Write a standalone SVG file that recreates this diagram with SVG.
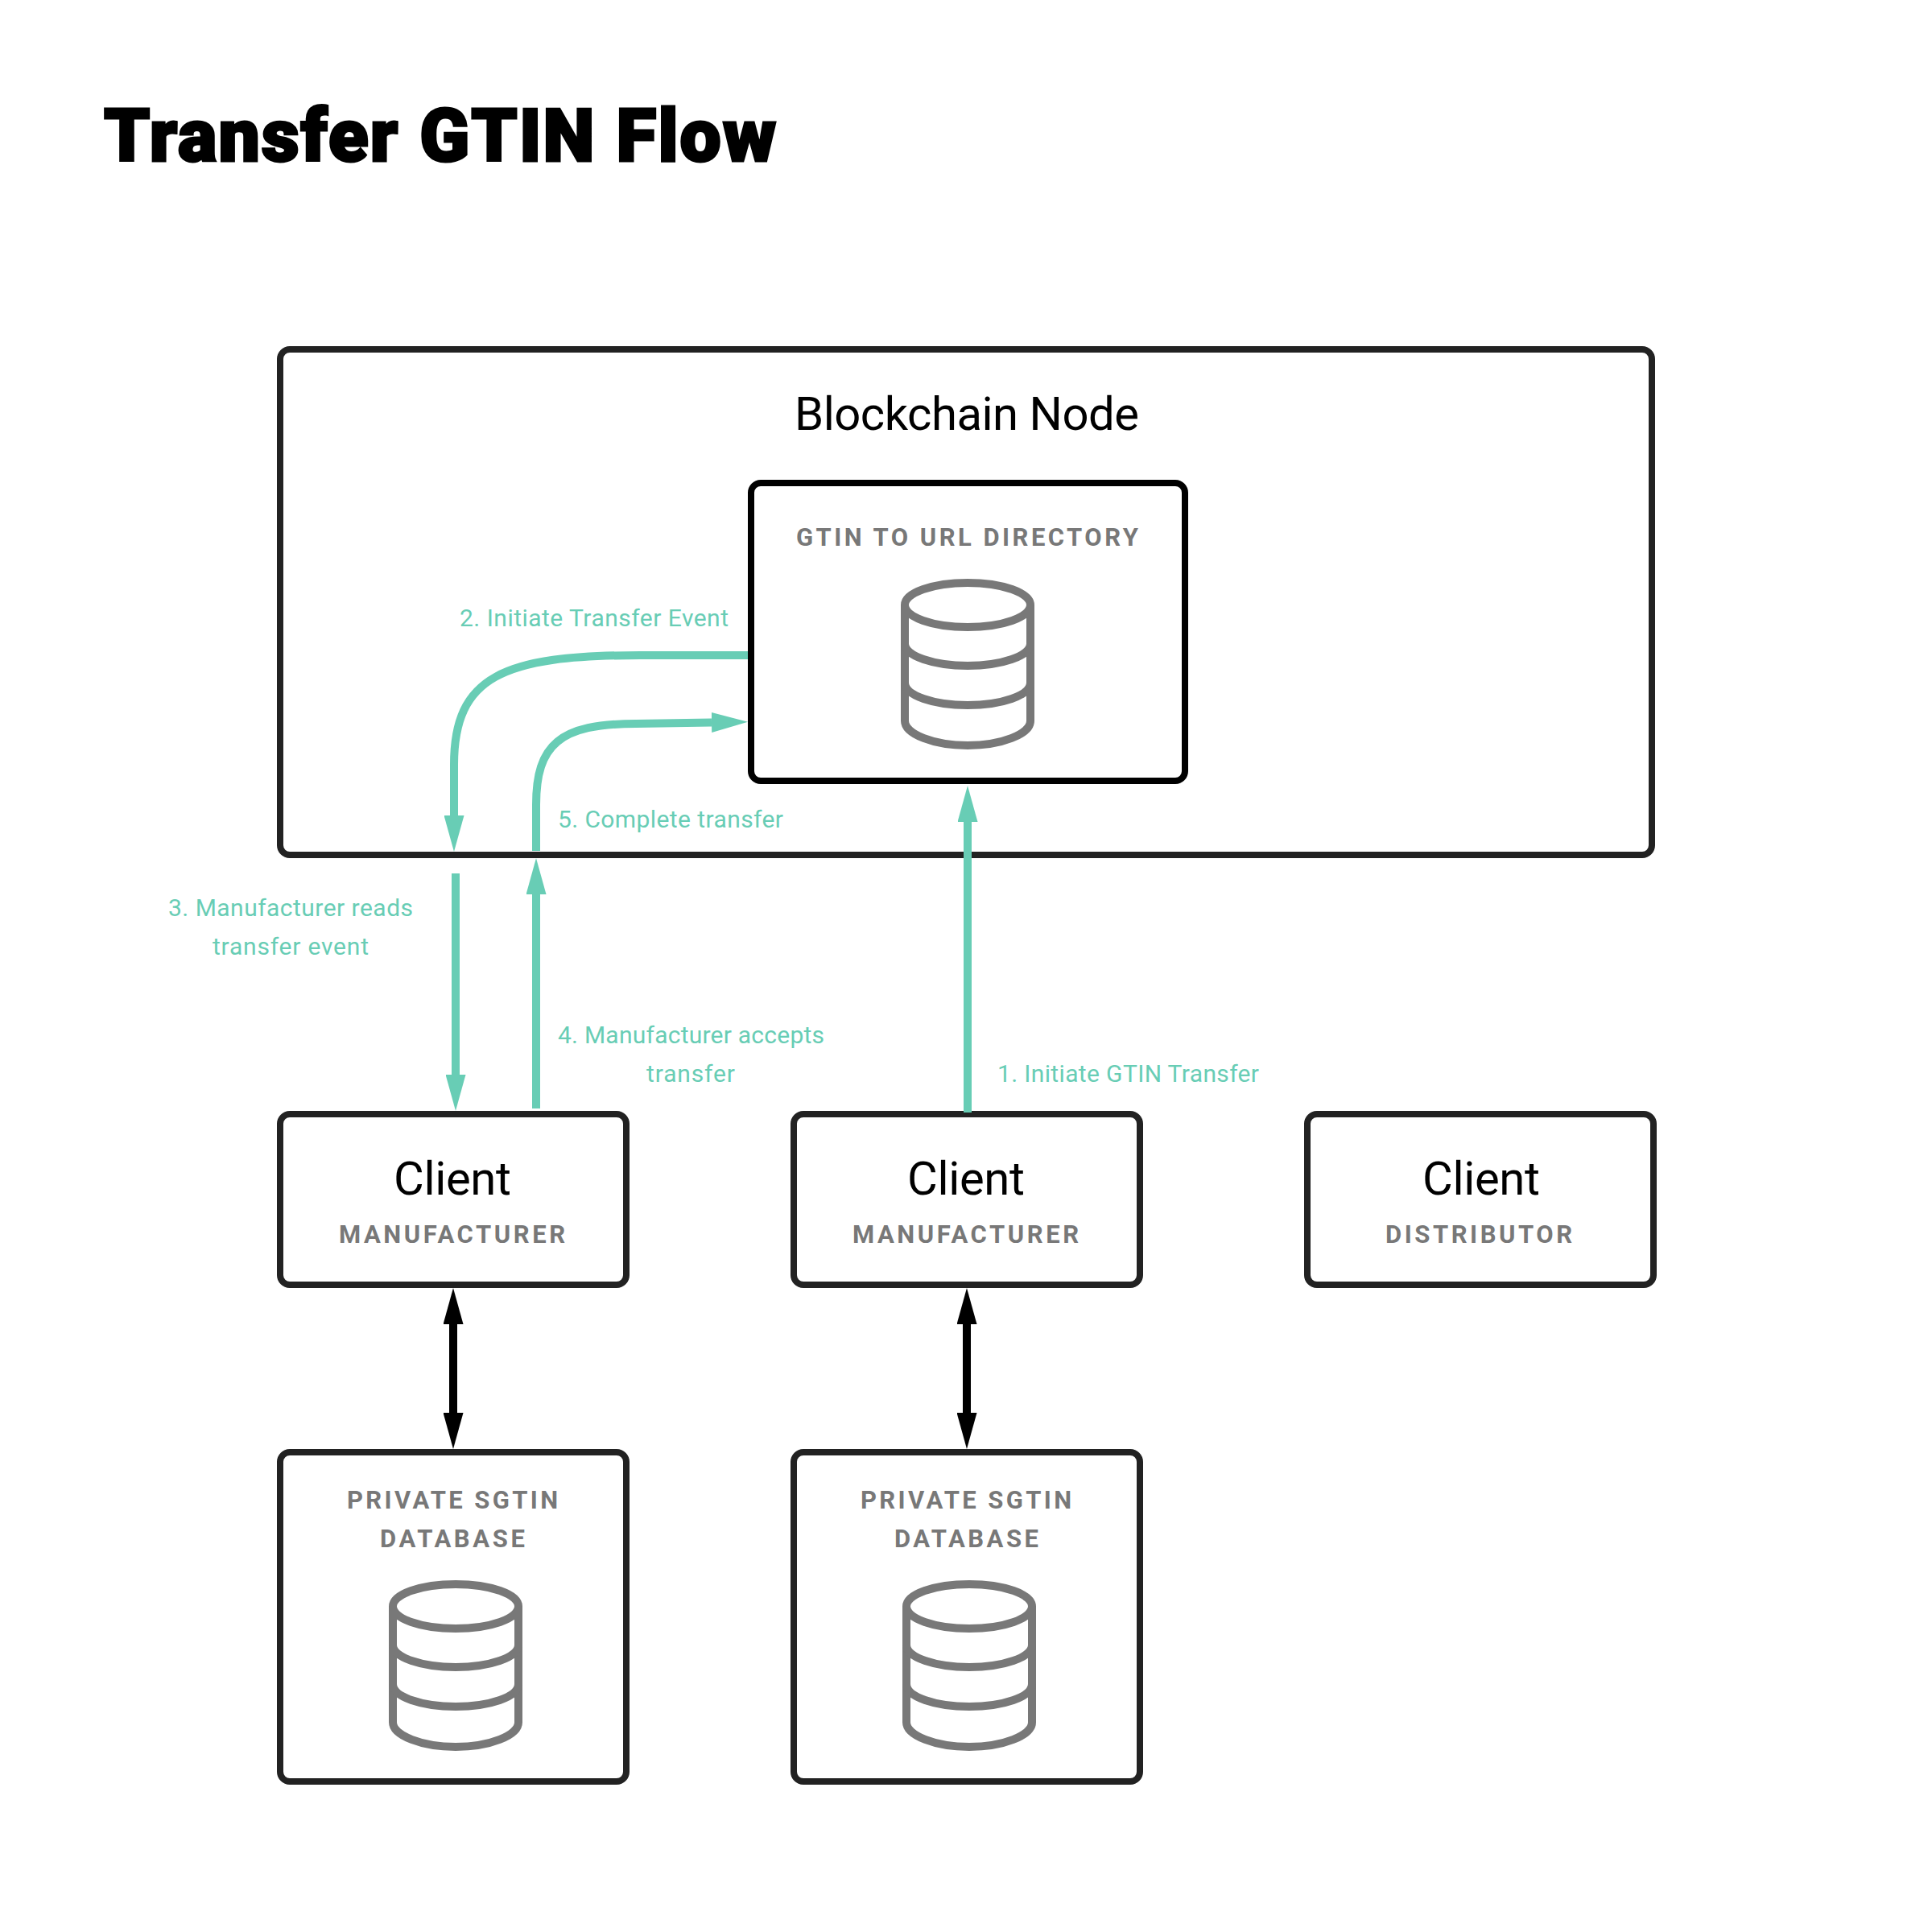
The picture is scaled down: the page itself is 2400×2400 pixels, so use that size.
<svg xmlns="http://www.w3.org/2000/svg" width="2400" height="2400" viewBox="0 0 2400 2400">
<style>
text{font-family:"Roboto","Liberation Sans",sans-serif}
.box{fill:#fff;stroke:#222;stroke-width:8}
.inner{fill:#fff;stroke:#000;stroke-width:8}
.title{font-size:91px;font-weight:900;fill:#000;stroke:#000;stroke-width:3}
.h{font-size:58px;font-weight:400;fill:#000}
.sub{font-size:31px;font-weight:700;fill:#787878}
.lab{font-size:30px;font-weight:400;fill:#68cdb5}
.t{fill:none;stroke:#68cdb5;stroke-width:10}
.k{fill:none;stroke:#000;stroke-width:10}
.db{fill:none;stroke:#787878;stroke-width:10}
</style>
<defs>
<marker id="ht" markerUnits="userSpaceOnUse" markerWidth="45" markerHeight="25" refX="0" refY="12.5" orient="auto-start-reverse"><path d="M0 0L45 12.5L0 25z" fill="#68cdb5"/></marker>
<marker id="hk" markerUnits="userSpaceOnUse" markerWidth="45" markerHeight="25" refX="0" refY="12.5" orient="auto-start-reverse"><path d="M0 0L45 12.5L0 25z" fill="#000"/></marker>
<g id="dbicon" class="db">
<ellipse cx="1202" cy="751.5" rx="78" ry="27.5"/>
<path d="M1124 751.5V895.5C1124 912 1160 926 1202 926S1280 912 1280 895.5V751.5"/>
<path d="M1124 799.5C1124 815 1160 827 1202 827S1280 815 1280 799.5"/>
<path d="M1124 848C1124 864 1160 876 1202 876S1280 864 1280 848"/>
</g>
</defs>
<rect width="2400" height="2400" fill="#fff"/>
<text id="title" class="title" x="129" y="200" textLength="835">Transfer GTIN Flow</text>
<g id="blockchain-node">
<rect class="box" x="348" y="434" width="1704" height="628" rx="12"/>
<text class="h" x="987" y="534" textLength="428">Blockchain Node</text>
</g>
<g id="directory">
<rect class="inner" x="933" y="600" width="539" height="370" rx="12"/>
<text class="sub" x="989" y="678" textLength="425">GTIN TO URL DIRECTORY</text>
<use href="#dbicon"/>
</g>
<g id="client-1">
<rect class="box" x="348" y="1384" width="430" height="212" rx="12"/>
<text class="h" x="489" y="1484" textLength="146">Client</text>
<text class="sub" x="421" y="1544" textLength="281">MANUFACTURER</text>
</g>
<g id="client-2">
<rect class="box" x="986" y="1384" width="430" height="212" rx="12"/>
<text class="h" x="1127" y="1484" textLength="146">Client</text>
<text class="sub" x="1059" y="1544" textLength="281">MANUFACTURER</text>
</g>
<g id="client-3">
<rect class="box" x="1624" y="1384" width="430" height="212" rx="12"/>
<text class="h" x="1767" y="1484" textLength="146">Client</text>
<text class="sub" x="1721" y="1544" textLength="232">DISTRIBUTOR</text>
</g>
<g id="database-1">
<rect class="box" x="348" y="1804" width="430" height="409" rx="12"/>
<text class="sub" x="431" y="1874" textLength="262">PRIVATE SGTIN</text>
<text class="sub" x="472" y="1922" textLength="180">DATABASE</text>
<use href="#dbicon" transform="translate(-636 1244)"/>
</g>
<g id="database-2">
<rect class="box" x="986" y="1804" width="430" height="409" rx="12"/>
<text class="sub" x="1069" y="1874" textLength="262">PRIVATE SGTIN</text>
<text class="sub" x="1111" y="1922" textLength="179">DATABASE</text>
<use href="#dbicon" transform="translate(2 1244)"/>
</g>
<g id="connectors">
<path class="t" d="M1202 1382V1021" marker-end="url(#ht)"/>
<path class="t" d="M929 814H795C625 814 564 840 564 950V1013" marker-end="url(#ht)"/>
<path class="t" d="M666 1057V1000C666 925 695 899 790 899L884 897.5" marker-end="url(#ht)"/>
<path class="t" d="M566 1085V1335" marker-end="url(#ht)"/>
<path class="t" d="M666 1377V1111" marker-end="url(#ht)"/>
<path class="k" d="M563 1645V1755" marker-start="url(#hk)" marker-end="url(#hk)"/>
<path class="k" d="M1201 1645V1755" marker-start="url(#hk)" marker-end="url(#hk)"/>
</g>
<g id="connector-labels">
<text class="lab" x="1239" y="1344" textLength="325">1. Initiate GTIN Transfer</text>
<text class="lab" x="571" y="778" textLength="334">2. Initiate Transfer Event</text>
<text class="lab" x="209" y="1138" textLength="304">3. Manufacturer reads</text>
<text class="lab" x="264" y="1186" textLength="194">transfer event</text>
<text class="lab" x="693" y="1296" textLength="331">4. Manufacturer accepts</text>
<text class="lab" x="803" y="1344" textLength="110">transfer</text>
<text class="lab" x="693" y="1028" textLength="280">5. Complete transfer</text>
</g>
</svg>
